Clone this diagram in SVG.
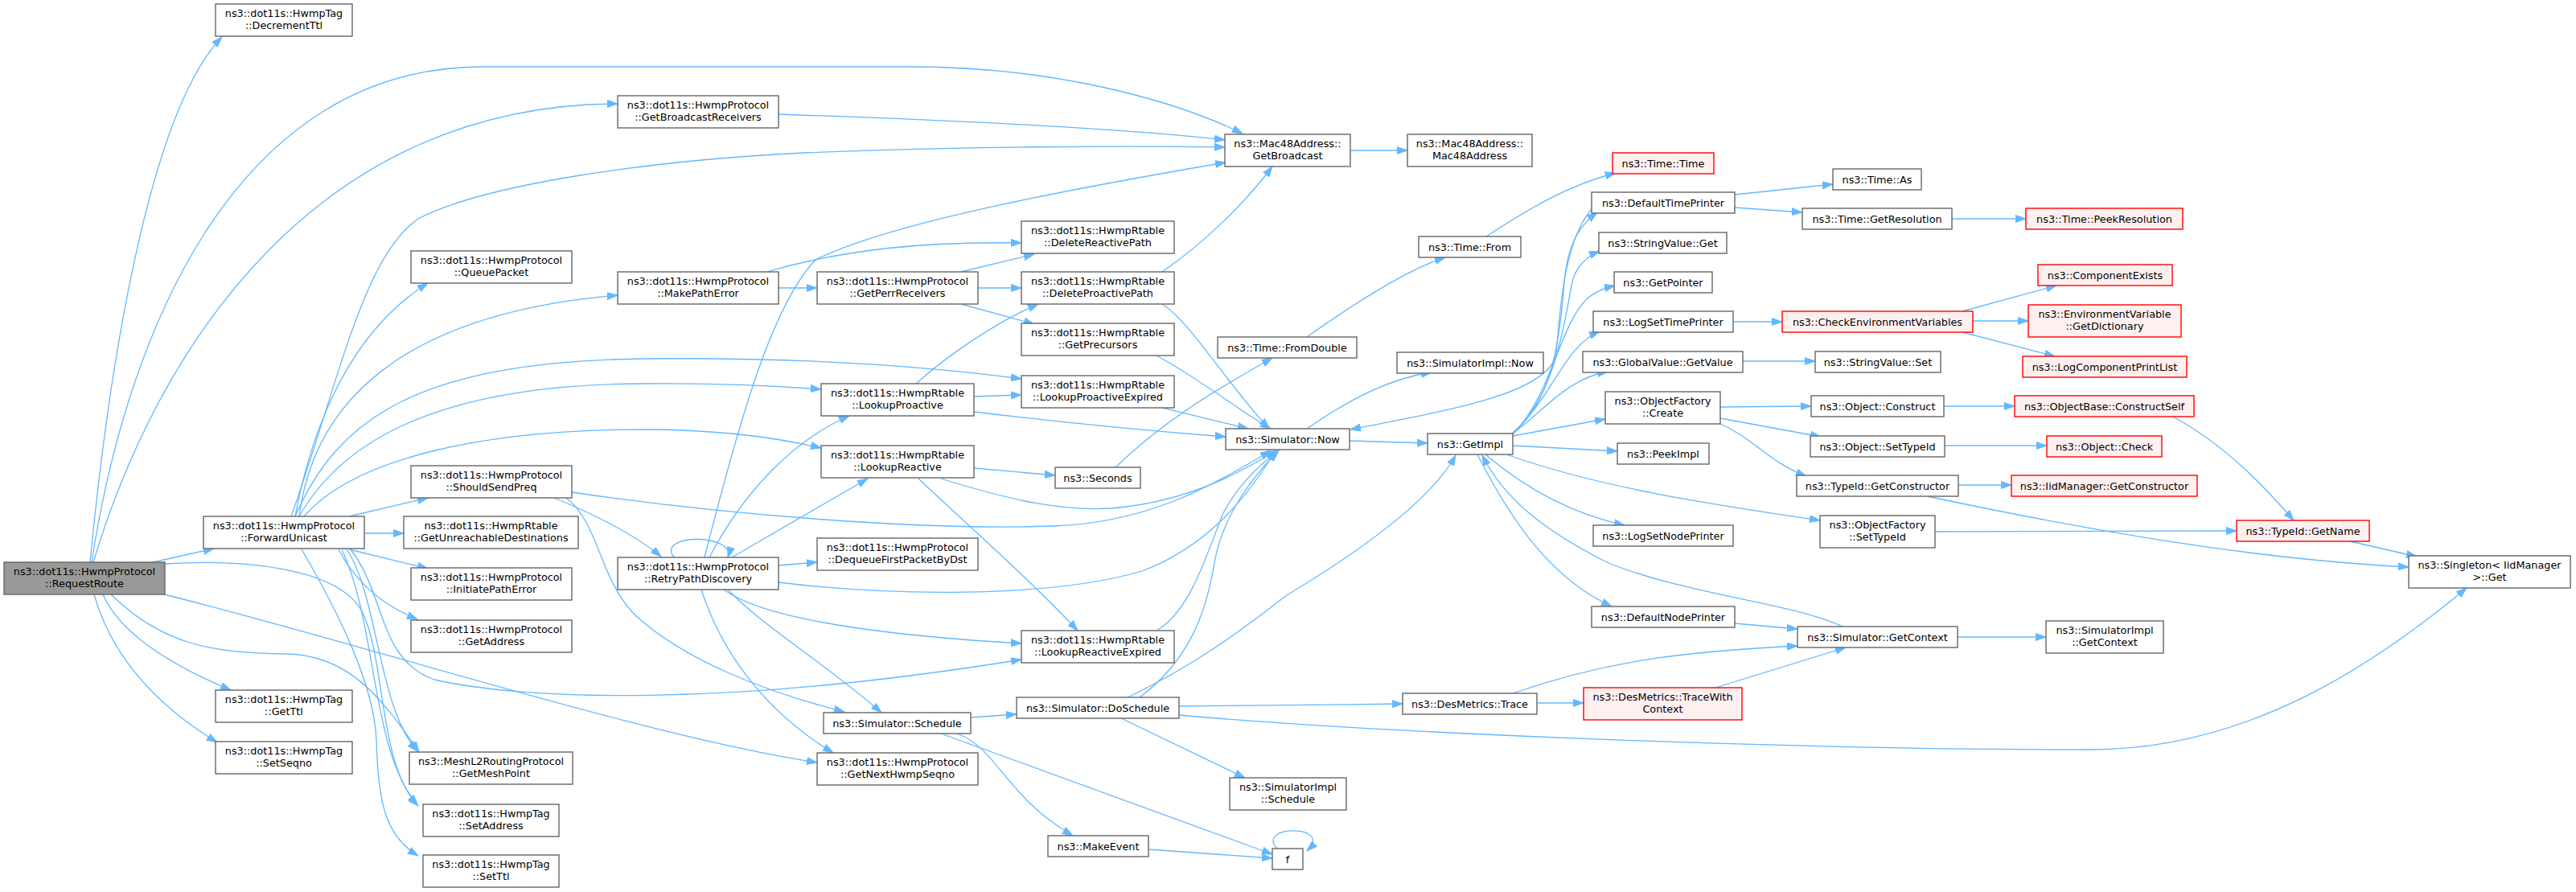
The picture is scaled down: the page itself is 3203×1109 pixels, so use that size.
<svg xmlns="http://www.w3.org/2000/svg" width="3203" height="1109" viewBox="0 0 3203 1109">
<style>
.n rect{fill:#ffffff;stroke:#666666;stroke-width:1.4}
.r rect{fill:#fff0f0;stroke:#ff0000;stroke-width:1.4}
.g rect{fill:#999999;stroke:#666666;stroke-width:1.4}
text{font-family:"DejaVu Sans","Liberation Sans",sans-serif;font-size:12.8px;fill:#000000;text-anchor:middle}
#edges path{fill:none;stroke:#63b8ff;stroke-width:1.3;marker-end:url(#a)}
</style>
<defs>
<marker id="a" markerWidth="14" markerHeight="10" refX="13" refY="5" orient="auto" markerUnits="userSpaceOnUse"><path d="M0,0.5 L13,5 L0,9.5 z" fill="#63b8ff" stroke="#63b8ff" stroke-width="1"/></marker>
</defs>
<rect x="0" y="0" width="3203" height="1109" fill="#ffffff"/>
<g id="edges">
<path d="M112,699 C135,460 185,140 276,46"/>
<path d="M114,699 C160,400 300,83 600,83 L1132,83 C1300,83 1450,120 1545,166"/>
<path d="M116,699 C200,420 400,130 768,129"/>
<path d="M190,699 L266,682"/>
<path d="M128,739 C150,790 220,830 287,858"/>
<path d="M117,739 C140,820 200,880 270,923"/>
<path d="M138,739 C200,800 260,812 357,813 C430,815 470,860 521,935"/>
<path d="M204,739 C450,800 800,915 1016,948"/>
<path d="M205,701 C300,695 420,705 450,760 C480,820 470,950 520,1002"/>
<path d="M367,642 C390,520 440,410 532,352"/>
<path d="M362,642 C420,480 450,320 520,272 C600,230 800,200 1000,190 C1200,182 1400,181 1523,183"/>
<path d="M372,642 C390,500 500,390 768,367"/>
<path d="M367,642 C420,520 520,450 800,446 C1000,444 1150,455 1270,471"/>
<path d="M372,642 C430,540 560,478 800,477 C900,476 970,480 1021,484"/>
<path d="M378,642 C440,570 600,534 800,534 C900,534 970,545 1021,557"/>
<path d="M434,642 L532,619"/>
<path d="M453,663 L502,663"/>
<path d="M434,683 L532,707"/>
<path d="M421,683 C440,720 470,750 519,770"/>
<path d="M431,683 C470,740 470,880 519,934"/>
<path d="M425,683 C470,780 460,930 519,1001"/>
<path d="M375,683 C420,760 465,850 468,920 C470,1000 480,1040 520,1064"/>
<path d="M436,683 C480,740 470,820 540,845 C650,870 900,880 1270,820"/>
<path d="M711,612 C900,640 1150,660 1310,654 C1420,650 1500,610 1580,560"/>
<path d="M689,619 C740,640 790,665 822,692"/>
<path d="M704,619 C745,650 745,720 790,765 C850,820 950,860 1050,885"/>
<path d="M838,693 C815,663 915,663 905,693"/>
<path d="M876,693 C920,520 960,380 1014,323 C1100,280 1300,240 1524,202"/>
<path d="M882,693 C920,620 980,550 1056,517"/>
<path d="M910,693 L1079,595"/>
<path d="M968,703 L1016,699"/>
<path d="M968,724 C1100,740 1300,745 1420,710 C1500,680 1550,620 1586,560"/>
<path d="M872,733 C900,820 960,890 1036,936"/>
<path d="M900,733 C950,770 1100,790 1270,800"/>
<path d="M905,733 C950,780 1020,820 1096,886"/>
<path d="M968,142 C1200,150 1400,160 1523,174"/>
<path d="M953,338 C1050,310 1150,300 1270,302"/>
<path d="M968,358 L1016,358"/>
<path d="M1195,338 L1286,316"/>
<path d="M1216,358 L1270,358"/>
<path d="M1195,378 L1286,403"/>
<path d="M1445,338 C1500,300 1550,250 1582,207"/>
<path d="M1445,378 C1480,400 1520,470 1578,533"/>
<path d="M1438,442 C1490,470 1540,510 1580,533"/>
<path d="M1445,507 L1552,533"/>
<path d="M1211,512 C1320,525 1420,535 1524,543"/>
<path d="M1139,477 C1180,440 1240,400 1291,378"/>
<path d="M1211,493 L1270,491"/>
<path d="M1211,582 L1312,591"/>
<path d="M1170,595 C1250,620 1330,640 1400,630 C1480,620 1540,590 1586,560"/>
<path d="M1142,595 C1200,650 1280,720 1340,784"/>
<path d="M1387,581 C1450,520 1520,480 1582,445"/>
<path d="M1438,784 C1480,760 1500,690 1520,640 C1540,600 1570,575 1590,560"/>
<path d="M1207,892 L1264,888"/>
<path d="M1190,912 C1240,930 1250,990 1334,1039"/>
<path d="M1170,912 L1582,1062"/>
<path d="M1428,1056 L1582,1067"/>
<path d="M1588,1055 C1560,1025 1660,1025 1625,1058"/>
<path d="M1394,893 L1548,967"/>
<path d="M1466,878 C1600,877 1650,876 1744,875"/>
<path d="M1466,889 C1700,910 2200,932 2600,932 C2800,932 2960,820 3067,731"/>
<path d="M1402,867 C1500,820 1560,770 1600,740 C1700,680 1780,620 1810,566"/>
<path d="M1417,867 C1480,820 1500,760 1510,700 C1520,640 1560,590 1590,560"/>
<path d="M1679,187 L1750,187"/>
<path d="M1625,419 C1680,380 1750,335 1797,320"/>
<path d="M1848,294 C1900,260 1950,230 2009,215"/>
<path d="M2157,242 L2279,229"/>
<path d="M2157,258 L2241,264"/>
<path d="M2427,272 L2519,272"/>
<path d="M1625,533 C1680,495 1730,470 1780,463"/>
<path d="M1678,548 L1775,551"/>
<path d="M1979,260 C1945,300 1940,380 1935,440 C1925,490 1800,510 1679,534"/>
<path d="M1881,538 C1930,500 1940,420 1945,350 C1950,300 1965,280 1986,264"/>
<path d="M1881,539 C1935,490 1945,400 1955,350 C1960,330 1975,318 1989,312"/>
<path d="M1881,540 C1930,490 1940,400 1975,370 C1985,362 1995,358 2008,355"/>
<path d="M1881,538 C1930,495 1945,430 1989,412"/>
<path d="M1881,539 C1920,510 1950,470 1999,462"/>
<path d="M1881,542 L1996,521"/>
<path d="M1881,554 L2011,561"/>
<path d="M1847,565 C1900,610 1960,640 2020,653"/>
<path d="M1873,565 C2000,610 2150,630 2263,647"/>
<path d="M1837,565 C1880,650 1930,720 2004,754"/>
<path d="M2291,779 C2230,750 2100,740 2000,700 C1920,660 1870,620 1843,566"/>
<path d="M2139,506 L2252,505"/>
<path d="M2139,520 L2264,543"/>
<path d="M2139,527 C2180,545 2200,575 2246,592"/>
<path d="M2155,400 L2216,400"/>
<path d="M2167,449 L2257,449"/>
<path d="M2440,387 L2557,355"/>
<path d="M2453,399 L2522,399"/>
<path d="M2440,413 L2555,443"/>
<path d="M2417,505 L2505,505"/>
<path d="M2418,554 L2545,554"/>
<path d="M2435,603 L2501,603"/>
<path d="M2702,518 C2770,555 2820,610 2852,647"/>
<path d="M2406,661 L2781,660"/>
<path d="M2396,617 C2600,660 2800,695 2995,705"/>
<path d="M2922,673 L3005,692"/>
<path d="M2157,775 L2235,782"/>
<path d="M1881,862 C2000,820 2100,810 2235,803"/>
<path d="M1911,874 L1969,874"/>
<path d="M2133,855 L2295,805"/>
<path d="M2434,792 L2544,792"/>
</g>
<g id="RequestRoute" class="g"><rect x="5" y="699" width="200" height="40"/><text x="105" y="715">ns3::dot11s::HwmpProtocol</text><text x="105" y="729.5">::RequestRoute</text></g>
<g id="DecrementTtl" class="n"><rect x="268" y="5" width="170" height="40"/><text x="353" y="21">ns3::dot11s::HwmpTag</text><text x="353" y="35.5">::DecrementTtl</text></g>
<g id="ForwardUnicast" class="n"><rect x="253" y="642" width="200" height="40"/><text x="353" y="658">ns3::dot11s::HwmpProtocol</text><text x="353" y="672.5">::ForwardUnicast</text></g>
<g id="GetTtl" class="n"><rect x="268" y="858" width="170" height="40"/><text x="353" y="874">ns3::dot11s::HwmpTag</text><text x="353" y="888.5">::GetTtl</text></g>
<g id="SetSeqno" class="n"><rect x="268" y="922" width="170" height="40"/><text x="353" y="938">ns3::dot11s::HwmpTag</text><text x="353" y="952.5">::SetSeqno</text></g>
<g id="GetBroadcastReceivers" class="n"><rect x="768" y="119" width="200" height="40"/><text x="868" y="135">ns3::dot11s::HwmpProtocol</text><text x="868" y="149.5">::GetBroadcastReceivers</text></g>
<g id="QueuePacket" class="n"><rect x="511" y="312" width="200" height="40"/><text x="611" y="328">ns3::dot11s::HwmpProtocol</text><text x="611" y="342.5">::QueuePacket</text></g>
<g id="MakePathError" class="n"><rect x="768" y="338" width="200" height="40"/><text x="868" y="354">ns3::dot11s::HwmpProtocol</text><text x="868" y="368.5">::MakePathError</text></g>
<g id="ShouldSendPreq" class="n"><rect x="511" y="579" width="200" height="40"/><text x="611" y="595">ns3::dot11s::HwmpProtocol</text><text x="611" y="609.5">::ShouldSendPreq</text></g>
<g id="GetUnreachableDestinations" class="n"><rect x="502" y="642" width="217" height="40"/><text x="610.5" y="658">ns3::dot11s::HwmpRtable</text><text x="610.5" y="672.5">::GetUnreachableDestinations</text></g>
<g id="InitiatePathError" class="n"><rect x="511" y="706" width="200" height="40"/><text x="611" y="722">ns3::dot11s::HwmpProtocol</text><text x="611" y="736.5">::InitiatePathError</text></g>
<g id="GetAddress" class="n"><rect x="511" y="771" width="200" height="40"/><text x="611" y="787">ns3::dot11s::HwmpProtocol</text><text x="611" y="801.5">::GetAddress</text></g>
<g id="GetMeshPoint" class="n"><rect x="509" y="935" width="203" height="40"/><text x="610.5" y="951">ns3::MeshL2RoutingProtocol</text><text x="610.5" y="965.5">::GetMeshPoint</text></g>
<g id="SetAddress" class="n"><rect x="526" y="1000" width="169" height="40"/><text x="610.5" y="1016">ns3::dot11s::HwmpTag</text><text x="610.5" y="1030.5">::SetAddress</text></g>
<g id="SetTtl" class="n"><rect x="526" y="1063" width="169" height="40"/><text x="610.5" y="1079">ns3::dot11s::HwmpTag</text><text x="610.5" y="1093.5">::SetTtl</text></g>
<g id="RetryPathDiscovery" class="n"><rect x="768" y="693" width="200" height="40"/><text x="868" y="709">ns3::dot11s::HwmpProtocol</text><text x="868" y="723.5">::RetryPathDiscovery</text></g>
<g id="GetBroadcast" class="n"><rect x="1523" y="167" width="156" height="40"/><text x="1601" y="183">ns3::Mac48Address::</text><text x="1601" y="197.5">GetBroadcast</text></g>
<g id="DeleteReactivePath" class="n"><rect x="1270" y="275" width="190" height="40"/><text x="1365" y="291">ns3::dot11s::HwmpRtable</text><text x="1365" y="305.5">::DeleteReactivePath</text></g>
<g id="GetPerrReceivers" class="n"><rect x="1016" y="338" width="200" height="40"/><text x="1116" y="354">ns3::dot11s::HwmpProtocol</text><text x="1116" y="368.5">::GetPerrReceivers</text></g>
<g id="DeleteProactivePath" class="n"><rect x="1270" y="338" width="190" height="40"/><text x="1365" y="354">ns3::dot11s::HwmpRtable</text><text x="1365" y="368.5">::DeleteProactivePath</text></g>
<g id="GetPrecursors" class="n"><rect x="1270" y="402" width="190" height="40"/><text x="1365" y="418">ns3::dot11s::HwmpRtable</text><text x="1365" y="432.5">::GetPrecursors</text></g>
<g id="LookupProactiveExpired" class="n"><rect x="1270" y="467" width="190" height="40"/><text x="1365" y="483">ns3::dot11s::HwmpRtable</text><text x="1365" y="497.5">::LookupProactiveExpired</text></g>
<g id="LookupProactive" class="n"><rect x="1021" y="477" width="190" height="40"/><text x="1116" y="493">ns3::dot11s::HwmpRtable</text><text x="1116" y="507.5">::LookupProactive</text></g>
<g id="LookupReactive" class="n"><rect x="1021" y="554" width="190" height="40"/><text x="1116" y="570">ns3::dot11s::HwmpRtable</text><text x="1116" y="584.5">::LookupReactive</text></g>
<g id="Seconds" class="n"><rect x="1312" y="581" width="106" height="26"/><text x="1365" y="598.5">ns3::Seconds</text></g>
<g id="FromDouble" class="n"><rect x="1514" y="419" width="173" height="26"/><text x="1600.5" y="436.5">ns3::Time::FromDouble</text></g>
<g id="SimulatorNow" class="n"><rect x="1524" y="533" width="154" height="26"/><text x="1601" y="550.5">ns3::Simulator::Now</text></g>
<g id="DequeueFirstPacketByDst" class="n"><rect x="1016" y="669" width="200" height="40"/><text x="1116" y="685">ns3::dot11s::HwmpProtocol</text><text x="1116" y="699.5">::DequeueFirstPacketByDst</text></g>
<g id="LookupReactiveExpired" class="n"><rect x="1270" y="784" width="190" height="40"/><text x="1365" y="800">ns3::dot11s::HwmpRtable</text><text x="1365" y="814.5">::LookupReactiveExpired</text></g>
<g id="SimulatorSchedule" class="n"><rect x="1024" y="886" width="183" height="26"/><text x="1115.5" y="903.5">ns3::Simulator::Schedule</text></g>
<g id="DoSchedule" class="n"><rect x="1264" y="867" width="202" height="26"/><text x="1365" y="884.5">ns3::Simulator::DoSchedule</text></g>
<g id="GetNextHwmpSeqno" class="n"><rect x="1016" y="936" width="200" height="40"/><text x="1116" y="952">ns3::dot11s::HwmpProtocol</text><text x="1116" y="966.5">::GetNextHwmpSeqno</text></g>
<g id="SimulatorImplSchedule" class="n"><rect x="1529" y="967" width="145" height="40"/><text x="1601.5" y="983">ns3::SimulatorImpl</text><text x="1601.5" y="997.5">::Schedule</text></g>
<g id="MakeEvent" class="n"><rect x="1303" y="1039" width="125" height="26"/><text x="1365.5" y="1056.5">ns3::MakeEvent</text></g>
<g id="f" class="n"><rect x="1582" y="1055" width="38" height="26"/><text x="1601" y="1072.5">f</text></g>
<g id="Mac48Address" class="n"><rect x="1750" y="167" width="155" height="40"/><text x="1827.5" y="183">ns3::Mac48Address::</text><text x="1827.5" y="197.5">Mac48Address</text></g>
<g id="TimeTime" class="r"><rect x="2005" y="190" width="126" height="26"/><text x="2068" y="207.5">ns3::Time::Time</text></g>
<g id="TimeAs" class="n"><rect x="2279" y="210" width="110" height="26"/><text x="2334" y="227.5">ns3::Time::As</text></g>
<g id="DefaultTimePrinter" class="n"><rect x="1979" y="239" width="178" height="26"/><text x="2068" y="256.5">ns3::DefaultTimePrinter</text></g>
<g id="GetResolution" class="n"><rect x="2241" y="259" width="186" height="26"/><text x="2334" y="276.5">ns3::Time::GetResolution</text></g>
<g id="TimeFrom" class="n"><rect x="1764" y="294" width="127" height="26"/><text x="1827.5" y="311.5">ns3::Time::From</text></g>
<g id="StringValueGet" class="n"><rect x="1988" y="289" width="159" height="26"/><text x="2067.5" y="306.5">ns3::StringValue::Get</text></g>
<g id="GetPointer" class="n"><rect x="2007" y="338" width="122" height="26"/><text x="2068" y="355.5">ns3::GetPointer</text></g>
<g id="LogSetTimePrinter" class="n"><rect x="1981" y="387" width="174" height="26"/><text x="2068" y="404.5">ns3::LogSetTimePrinter</text></g>
<g id="CheckEnvironmentVariables" class="r"><rect x="2216" y="387" width="237" height="26"/><text x="2334.5" y="404.5">ns3::CheckEnvironmentVariables</text></g>
<g id="GlobalValueGetValue" class="n"><rect x="1968" y="437" width="199" height="26"/><text x="2067.5" y="454.5">ns3::GlobalValue::GetValue</text></g>
<g id="StringValueSet" class="n"><rect x="2257" y="437" width="156" height="26"/><text x="2335" y="454.5">ns3::StringValue::Set</text></g>
<g id="SimulatorImplNow" class="n"><rect x="1737" y="438" width="182" height="26"/><text x="1828" y="455.5">ns3::SimulatorImpl::Now</text></g>
<g id="ObjectFactoryCreate" class="n"><rect x="1996" y="487" width="143" height="40"/><text x="2067.5" y="503">ns3::ObjectFactory</text><text x="2067.5" y="517.5">::Create</text></g>
<g id="ObjectConstruct" class="n"><rect x="2252" y="492" width="165" height="26"/><text x="2334.5" y="509.5">ns3::Object::Construct</text></g>
<g id="GetImpl" class="n"><rect x="1775" y="539" width="106" height="26"/><text x="1828" y="556.5">ns3::GetImpl</text></g>
<g id="PeekImpl" class="n"><rect x="2011" y="551" width="114" height="26"/><text x="2068" y="568.5">ns3::PeekImpl</text></g>
<g id="ObjectSetTypeId" class="n"><rect x="2251" y="542" width="167" height="26"/><text x="2334.5" y="559.5">ns3::Object::SetTypeId</text></g>
<g id="TypeIdGetConstructor" class="n"><rect x="2234" y="591" width="201" height="26"/><text x="2334.5" y="608.5">ns3::TypeId::GetConstructor</text></g>
<g id="LogSetNodePrinter" class="n"><rect x="1981" y="653" width="174" height="26"/><text x="2068" y="670.5">ns3::LogSetNodePrinter</text></g>
<g id="ObjectFactorySetTypeId" class="n"><rect x="2263" y="641" width="143" height="40"/><text x="2334.5" y="657">ns3::ObjectFactory</text><text x="2334.5" y="671.5">::SetTypeId</text></g>
<g id="DefaultNodePrinter" class="n"><rect x="1979" y="754" width="178" height="26"/><text x="2068" y="771.5">ns3::DefaultNodePrinter</text></g>
<g id="SimulatorGetContext" class="n"><rect x="2235" y="779" width="199" height="26"/><text x="2334.5" y="796.5">ns3::Simulator::GetContext</text></g>
<g id="DesMetricsTrace" class="n"><rect x="1744" y="862" width="167" height="26"/><text x="1827.5" y="879.5">ns3::DesMetrics::Trace</text></g>
<g id="TraceWithContext" class="r"><rect x="1969" y="855" width="197" height="40"/><text x="2067.5" y="871">ns3::DesMetrics::TraceWith</text><text x="2067.5" y="885.5">Context</text></g>
<g id="PeekResolution" class="r"><rect x="2519" y="259" width="195" height="26"/><text x="2616.5" y="276.5">ns3::Time::PeekResolution</text></g>
<g id="ComponentExists" class="r"><rect x="2534" y="329" width="167" height="26"/><text x="2617.5" y="346.5">ns3::ComponentExists</text></g>
<g id="GetDictionary" class="r"><rect x="2522" y="379" width="190" height="40"/><text x="2617" y="395">ns3::EnvironmentVariable</text><text x="2617" y="409.5">::GetDictionary</text></g>
<g id="LogComponentPrintList" class="r"><rect x="2515" y="443" width="204" height="26"/><text x="2617" y="460.5">ns3::LogComponentPrintList</text></g>
<g id="ConstructSelf" class="r"><rect x="2505" y="492" width="223" height="26"/><text x="2616.5" y="509.5">ns3::ObjectBase::ConstructSelf</text></g>
<g id="ObjectCheck" class="r"><rect x="2545" y="542" width="143" height="26"/><text x="2616.5" y="559.5">ns3::Object::Check</text></g>
<g id="IidManagerGetConstructor" class="r"><rect x="2501" y="591" width="231" height="26"/><text x="2616.5" y="608.5">ns3::IidManager::GetConstructor</text></g>
<g id="TypeIdGetName" class="r"><rect x="2781" y="647" width="165" height="26"/><text x="2863.5" y="664.5">ns3::TypeId::GetName</text></g>
<g id="SingletonGet" class="n"><rect x="2995" y="691" width="201" height="40"/><text x="3095.5" y="707">ns3::Singleton&lt; IidManager</text><text x="3095.5" y="721.5">&gt;::Get</text></g>
<g id="SimulatorImplGetContext" class="n"><rect x="2544" y="772" width="146" height="40"/><text x="2617" y="788">ns3::SimulatorImpl</text><text x="2617" y="802.5">::GetContext</text></g>
</svg>
